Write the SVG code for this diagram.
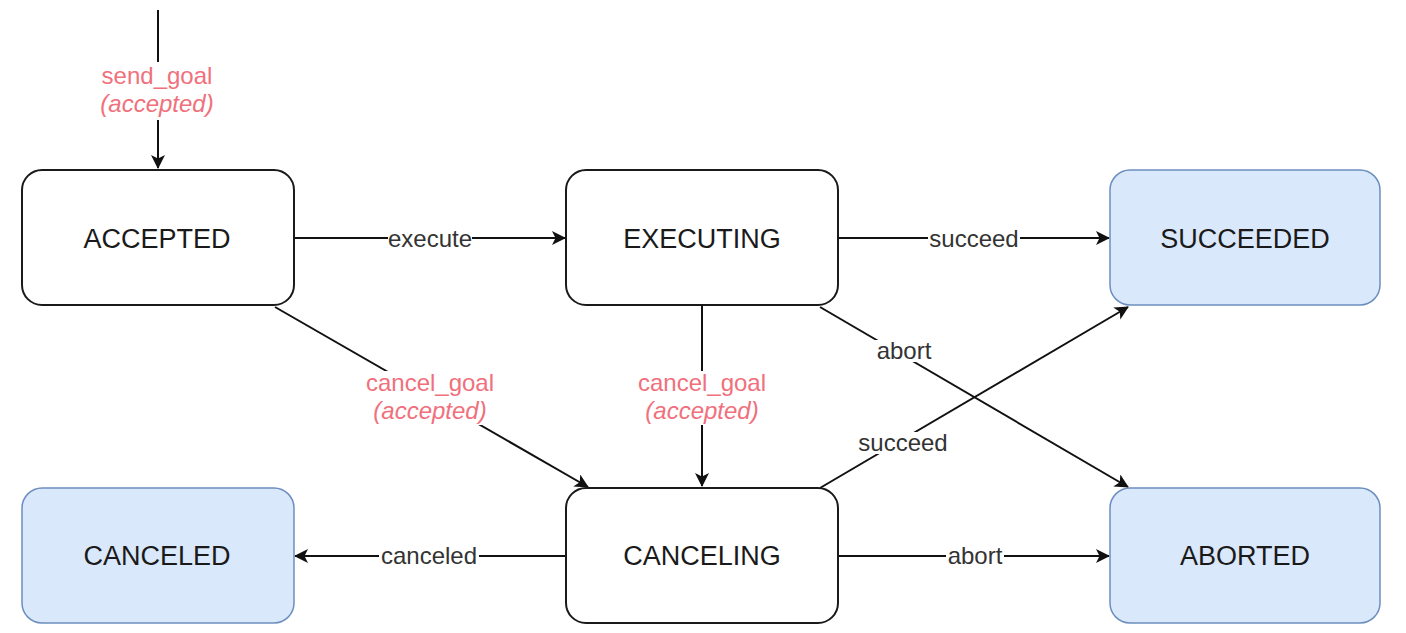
<svg xmlns="http://www.w3.org/2000/svg" width="1406" height="633" viewBox="0 0 1406 633">
<defs>
<style>
.st{fill:#ffffff;stroke:#1a1a1a;stroke-width:2}
.fin{fill:#dae8fc;stroke:#6c8ebf;stroke-width:1.5}
.nt{font-family:"Liberation Sans",Arial,sans-serif;font-size:27px;fill:#1a1a1a;text-anchor:middle}
.lb{font-family:"Liberation Sans",Arial,sans-serif;font-size:24px;fill:#333333;text-anchor:middle}
.red{fill:#f0707c}
.it{font-style:italic}
.e{fill:none;stroke:#111111;stroke-width:2;marker-end:url(#arr)}
.bg{fill:#ffffff}
</style>
<marker id="arr" viewBox="0 0 14 14" refX="13" refY="7" markerWidth="14" markerHeight="14" markerUnits="userSpaceOnUse" orient="auto">
<path d="M0,0 L14,7 L0,14 L3.5,7 Z" fill="#111111"/>
</marker>
</defs>
<rect width="1406" height="633" fill="#ffffff"/>
<g id="connectors">
<path class="e" d="M158,10 L158,168"/>
<path class="e" d="M294,238 L565,238"/>
<path class="e" d="M838,238 L1109,238"/>
<path class="e" d="M820,307 L1128,487"/>
<path class="e" d="M275,307 L588,487"/>
<path class="e" d="M702,305 L702,486"/>
<path class="e" d="M820,488 L1128,307"/>
<path class="e" d="M566,556 L295,556"/>
<path class="e" d="M838,556 L1109,556"/>
<g id="labels">
<rect class="bg" x="97" y="62" width="122" height="58"/>
<text class="lb red" x="157" y="84">send_goal</text>
<text class="lb red it" x="157" y="112">(accepted)</text>
<rect class="bg" x="388" y="228" width="84" height="22"/>
<text class="lb" x="430" y="247">execute</text>
<rect class="bg" x="928" y="228" width="92" height="22"/>
<text class="lb" x="974" y="247">succeed</text>
<rect class="bg" x="874" y="340" width="60" height="22"/>
<text class="lb" x="904" y="359">abort</text>
<rect class="bg" x="364" y="371" width="132" height="54"/>
<text class="lb red" x="430" y="391">cancel_goal</text>
<text class="lb red it" x="430" y="419">(accepted)</text>
<rect class="bg" x="636" y="371" width="132" height="54"/>
<text class="lb red" x="702" y="391">cancel_goal</text>
<text class="lb red it" x="702" y="419">(accepted)</text>
<rect class="bg" x="856" y="432" width="94" height="22"/>
<text class="lb" x="903" y="451">succeed</text>
<rect class="bg" x="379" y="545" width="100" height="22"/>
<text class="lb" x="429" y="564">canceled</text>
<rect class="bg" x="946" y="545" width="58" height="22"/>
<text class="lb" x="975" y="564">abort</text>
</g>
</g>
<g id="accepted">
<rect class="st" x="22" y="170" width="272" height="135" rx="20"/>
<text class="nt" x="157" y="248">ACCEPTED</text>
</g>
<g id="executing">
<rect class="st" x="566" y="170" width="272" height="135" rx="20"/>
<text class="nt" x="702" y="248">EXECUTING</text>
</g>
<g id="succeeded">
<rect class="fin" x="1110" y="170" width="270" height="135" rx="20"/>
<text class="nt" x="1245" y="248">SUCCEEDED</text>
</g>
<g id="canceled">
<rect class="fin" x="22" y="488" width="272" height="135" rx="20"/>
<text class="nt" x="157" y="565">CANCELED</text>
</g>
<g id="canceling">
<rect class="st" x="566" y="488" width="272" height="135" rx="20"/>
<text class="nt" x="702" y="565">CANCELING</text>
</g>
<g id="aborted">
<rect class="fin" x="1110" y="488" width="270" height="135" rx="20"/>
<text class="nt" x="1245" y="565">ABORTED</text>
</g>
</svg>
